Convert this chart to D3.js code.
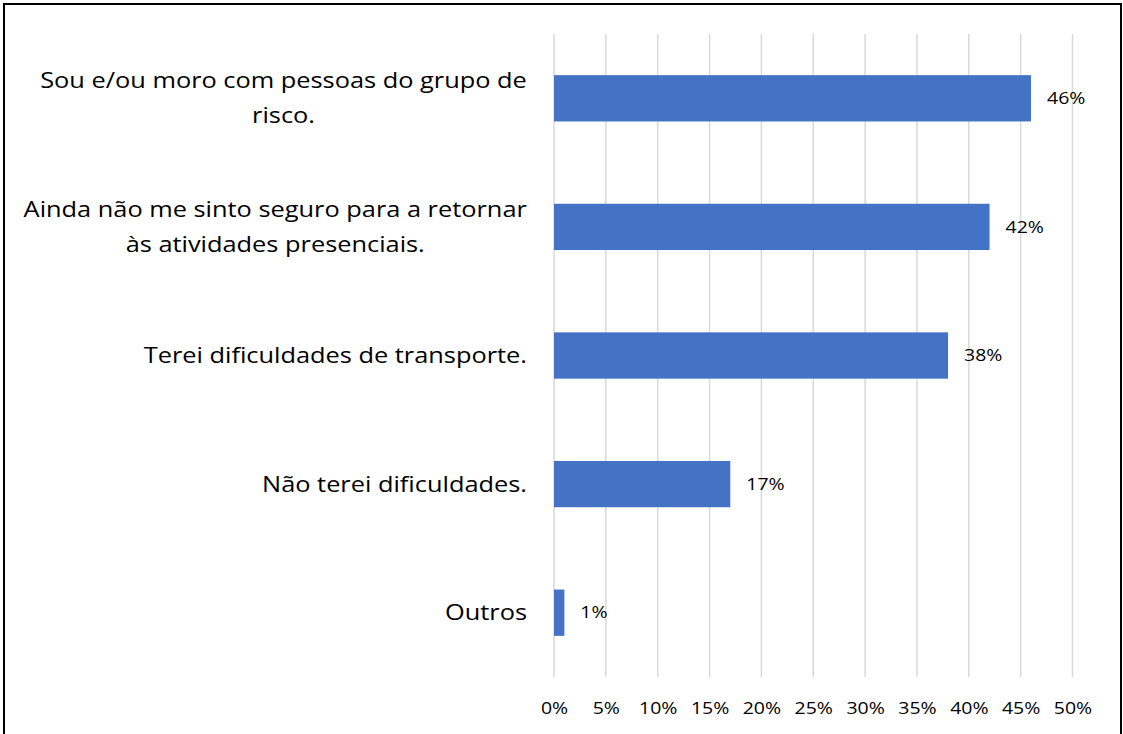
<!DOCTYPE html>
<html>
<head>
<meta charset="utf-8">
<script src="https://cdn.jsdelivr.net/npm/d3@7"></script>
<style>
  html, body { margin: 0; padding: 0; background: #fff; }
  svg { display: block; }
</style>
</head>
<body>
<svg id="chart" width="1123" height="734"></svg>
<script>
// Categories (each entry is the list of wrapped lines) and their shares, in percent
const categories = [
  ["Sou e/ou moro com pessoas do grupo de", "risco."],
  ["Ainda não me sinto seguro para a retornar", "às atividades presenciais."],
  ["Terei dificuldades de transporte."],
  ["Não terei dificuldades."],
  ["Outros"]
];
const values = [46, 42, 38, 17, 1];
const tickValues = [0, 5, 10, 15, 20, 25, 30, 35, 40, 45, 50];

const svg = d3.select("#chart");
const W = 1123, H = 734;
const font = "'Open Sans', sans-serif";
const stretch = 1.18;          // horizontal widening applied to all text
const labelSize = 21.5;
const smallSize = 16.5;

// Place a text with horizontal stretch around its anchor point
function placeText(sel, px, py) {
  sel.attr("x", 0).attr("y", 0)
     .attr("transform", (d, i) => `translate(${px(d, i)},${py(d, i)}) scale(${stretch},1)`);
}

// Outer frame
svg.append("rect")
  .attr("x", 4).attr("y", 4)
  .attr("width", W - 6).attr("height", H + 10)
  .attr("fill", "none").attr("stroke", "#000").attr("stroke-width", 2);

const plot = { left: 554, right: 1072.5, top: 34, bottom: 677 };

const x = d3.scaleLinear().domain([0, 50]).range([plot.left, plot.right]);
const y = d3.scaleBand()
  .domain(d3.range(categories.length))
  .range([plot.top, plot.bottom])
  .paddingInner(0.64).paddingOuter(0.32);

// Vertical gridlines
svg.append("g").selectAll("line").data(tickValues).join("line")
  .attr("x1", d => x(d)).attr("x2", d => x(d))
  .attr("y1", plot.top).attr("y2", plot.bottom)
  .attr("stroke", "#d9d9d9").attr("stroke-width", 1.5);

// Bottom tick labels
const xAxis = d3.axisBottom(x).tickValues(tickValues).tickFormat(d => d + "%").tickSize(0).tickPadding(0);
const ax = svg.append("g").attr("transform", `translate(0, ${plot.bottom + 25})`).call(xAxis);
ax.select(".domain").remove();
ax.selectAll("text")
  .attr("font-family", font).attr("font-size", smallSize).attr("fill", "#000")
  .attr("dy", "0.71em")
  .attr("transform", `scale(${stretch},1)`);

// Bars
svg.append("g").selectAll("rect").data(values).join("rect")
  .attr("x", x(0))
  .attr("y", (d, i) => y(i))
  .attr("width", d => x(d) - x(0))
  .attr("height", y.bandwidth())
  .attr("fill", "#4472C4");

// Value labels
svg.append("g").selectAll("text").data(values).join("text")
  .attr("dy", "0.35em")
  .attr("font-family", font).attr("font-size", smallSize).attr("fill", "#000")
  .text(d => d + "%")
  .call(placeText, d => x(d) + 16, (d, i) => y(i) + y.bandwidth() / 2);

// Category labels: single lines right-aligned, wrapped lines centred on their block
const lineGap = 35;
const labelRight = 527;
const lg = svg.append("g");
categories.forEach((lines, i) => {
  const cy = y(i) + y.bandwidth() / 2;
  const g = lg.append("g");
  const t = g.selectAll("text").data(lines).join("text")
    .attr("font-family", font).attr("font-size", labelSize).attr("fill", "#000")
    .attr("dy", "0.35em")
    .text(d => d);
  const ly = (d, k) => cy + (k - (lines.length - 1) / 2) * lineGap;
  if (lines.length === 1) {
    t.attr("text-anchor", "end").call(placeText, () => labelRight, ly);
  } else {
    const widest = d3.max(t.nodes(), n => n.getComputedTextLength()) * stretch;
    t.attr("text-anchor", "middle").call(placeText, () => labelRight - widest / 2, ly);
  }
});
</script>
</body>
</html>
